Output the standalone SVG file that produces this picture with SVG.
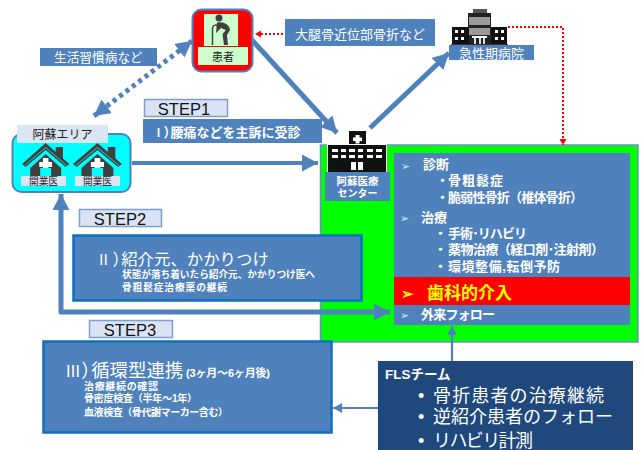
<svg xmlns="http://www.w3.org/2000/svg" width="643" height="450" viewBox="0 0 643 450">
<defs>
<style>
text{font-family:"Liberation Sans","Noto Sans CJK JP",sans-serif}
.cjk{font-family:"Noto Sans CJK JP",sans-serif}
.pa{font-feature-settings:"palt"}
.w{fill:#fff}.b{font-weight:700}
.blue{fill:#4f81bd}
.step{fill:#dae3f3;stroke:#7c9fd0;stroke-width:1.5}
.steptx{font-size:16.5px;fill:#111;text-anchor:middle}
.big{fill:#4f81bd;stroke:#0e6fc0;stroke-width:2.5}
.ln{fill:none;stroke:#4f81bd;stroke-width:5}
.thin{fill:none;stroke:#4f81bd;stroke-width:2.2}
.red{fill:none;stroke:#f00;stroke-width:2;stroke-dasharray:2 2}
.blk{fill:#111}
.dk{fill:#404040}
.arw{fill:#dce6f2}
</style>
<marker id="ah" markerUnits="userSpaceOnUse" markerWidth="18" markerHeight="18" refX="16" refY="8.500" orient="auto-start-reverse"><path d="M0 0L16 8.500L0 17Z" fill="#4f81bd"/></marker>
<marker id="ahs" markerUnits="userSpaceOnUse" markerWidth="12" markerHeight="12" refX="9" refY="5" orient="auto"><path d="M0 0L9 5L0 10Z" fill="#4f81bd"/></marker>
<marker id="ahr" markerUnits="userSpaceOnUse" markerWidth="8" markerHeight="8" refX="6" refY="3.500" orient="auto"><path d="M0 0L6 3.500L0 7Z" fill="#f00"/></marker>
<g id="house">
<path d="M0 21L26 0L52 21L48 24L26 7L4 24Z" class="dk"/>
<path d="M37 4h8v13l-8-6Z" class="dk"/>
<path d="M9 25L26 11L43 25V34H9Z" class="dk"/>
<path d="M3 22.500L26 4.500L49 22.500" fill="none" stroke="#00ffff" stroke-width="0.8"/>
<path d="M23 15h6v4h4v5h-4v4h-6v-4h-4v-5h4Z" fill="#fff"/>
<rect x="20" y="25" width="12" height="9" fill="#00ffff"/>
</g>
</defs>
<rect width="643" height="450" fill="#fff"/>

<g id="center-area">
<rect x="320.500" y="145" width="317.500" height="197" fill="#00ff00" stroke="#6f8fc8" stroke-width="1.500"/>
<rect x="394" y="153" width="236" height="124" class="blue"/>
<rect x="394" y="277" width="236" height="28" fill="#f00"/>
<rect x="394" y="305" width="236" height="20" class="blue"/>
<g class="arw" font-size="11">
<text x="401" y="170">➢</text>
<text x="400" y="222">➢</text>
<text x="400" y="319">➢</text>
</g>
<g class="w b" font-size="13">
<text x="423" y="169">診断</text>
<text x="436" y="185">・</text><text x="448" y="185" textLength="55">骨粗鬆症</text>
<text x="436" y="202">・</text><text x="448" y="202" textLength="135">脆弱性骨折（椎体骨折）</text>
<text x="421" y="222">治療</text>
<text x="434" y="238">・</text><text x="448" y="238" textLength="79">手術･リハビリ</text>
<text x="434" y="254">・</text><text x="448" y="254" textLength="156">薬物治療（経口剤･注射剤）</text>
<text x="434" y="271">・</text><text x="448" y="271" textLength="112">環境整備,転倒予防</text>
<text x="421" y="319" textLength="74">外来フォロー</text>
</g>
<text x="401" y="299" font-size="15" fill="#ff0" font-weight="700">➢</text>
<text x="427" y="299" font-size="17" fill="#ff0" font-weight="700">歯科的介入</text>
</g>

<g id="connectors">
<path d="M132 163H318" class="ln" style="stroke-width:4" marker-end="url(#ah)"/>
<path d="M252 40L337 133" class="ln" marker-end="url(#ah)"/>
<path d="M370 128L449 53" class="ln" marker-end="url(#ah)"/>
<path d="M94 116L192 41" fill="none" stroke="#4f81bd" stroke-width="5" stroke-dasharray="4 4" marker-start="url(#ah)" marker-end="url(#ah)"/>
<path d="M61 194V312H390" class="ln" stroke-linejoin="round" marker-start="url(#ah)" marker-end="url(#ah)"/>
<path d="M452 361V326" class="thin" marker-end="url(#ahs)"/>
<path d="M378 408H333" class="thin" marker-end="url(#ahs)"/>
<path d="M435 34H255" class="red" marker-end="url(#ahr)"/>
<path d="M508 27H563V145" class="red" marker-end="url(#ahr)"/>
</g>

<g id="patient">
<rect x="192.500" y="9.500" width="60" height="62" rx="9" fill="#f00" stroke="#4f81bd" stroke-width="2"/>
<rect x="204" y="14" width="34" height="32" fill="#ccffcc"/>
<rect x="198" y="47" width="50" height="18" fill="#ccffcc"/>
<circle cx="219" cy="18" r="3.500" class="dk"/>
<path d="M217 22.500C223 21 230 25 230 30L227 35L228 45H224L222.500 34L226 30L221 28L216 33Z" class="dk"/>
<path d="M212.500 45V29C212.500 24 218 24 218 28" fill="none" stroke="#404040" stroke-width="1.500"/>
<text x="223" y="61" font-size="11" text-anchor="middle" fill="#222">患者</text>
</g>

<g id="label-lifestyle"><rect x="40" y="48" width="117" height="18" class="blue"/><text x="54" y="62" font-size="12.700" class="w">生活習慣病など</text></g>
<g id="label-femur"><rect x="285" y="19" width="150" height="27" class="blue"/><text x="295" y="39" font-size="13" class="w">大腿骨近位部骨折など</text></g>

<g id="step1">
<rect x="144.500" y="99.500" width="83" height="17" class="step"/><text x="184" y="115" class="steptx">STEP1</text>
<rect x="143" y="119" width="179" height="24" class="blue"/>
<text x="153" y="137" font-size="13" class="w b cjk"><tspan font-size="11">Ⅰ</tspan><tspan class="pa">）</tspan>腰痛などを主訴に受診</text>
</g>

<g id="aso-area">
<rect x="12.500" y="134" width="118" height="58" rx="9" fill="#00ffff" stroke="#4f81bd" stroke-width="2"/>
<rect x="17" y="125" width="91" height="18" fill="#dce6f2"/>
<text x="62.500" y="139" font-size="12" text-anchor="middle" fill="#222">阿蘇エリア</text>
<use href="#house" transform="translate(22 143) scale(.91 1)"/>
<use href="#house" transform="translate(73 143) scale(.94 1)"/>
<rect x="21" y="176" width="45" height="10" fill="#dce6f2"/>
<rect x="75" y="176" width="45" height="10" fill="#dce6f2"/>
<text x="43.500" y="185" font-size="9.700" text-anchor="middle" fill="#222">開業医</text>
<text x="97.500" y="185" font-size="9.700" text-anchor="middle" fill="#222">開業医</text>
</g>

<g id="aso-center">
<rect x="348.500" y="130.500" width="18" height="15" class="blk" stroke="#fff"/>
<rect x="327.500" y="144.500" width="59" height="28" class="blk" stroke="#fff"/>
<path d="M355.500 135h4v2.500h2.500v3.500h-2.500v2.500h-4v-2.500h-2.500v-3.500h2.500Z" fill="#fff"/>
<path d="M332 149h6v3h-6ZM341 149h5v3h-5ZM349 149h6v3h-6ZM358 149h5v3h-5ZM367 149h6v3h-6ZM376 149h6v3h-6ZM332 155h6v3h-6ZM341 155h5v3h-5ZM349 155h6v3h-6ZM358 155h5v3h-5ZM367 155h6v3h-6ZM376 155h6v3h-6ZM351 162h5v8h-5ZM358 162h5v8h-5Z" fill="#fff"/>
<rect x="325" y="172" width="65" height="29" class="blue"/>
<text x="357.500" y="185" font-size="10.500" class="w b" text-anchor="middle">阿蘇医療</text>
<text x="357.500" y="197" font-size="10" class="w b" text-anchor="middle">センター</text>
</g>

<g id="acute-hospital">
<rect x="468" y="13" width="23" height="31" fill="#222"/>
<rect x="473" y="9" width="14" height="4" fill="#555"/>
<rect x="452" y="27" width="17" height="17" class="blk"/>
<rect x="491" y="27" width="16" height="17" class="blk"/>
<path d="M469 17h21v8h-21ZM469 28h21v7h-21Z" fill="#999"/>
<path d="M472 36h15v2h-15Z" fill="#fff"/>
<path d="M474 38h2v6h-2ZM479 38h2v6h-2ZM483 38h2v6h-2Z" fill="#ddd"/>
<path d="M455 30h3v3h-3ZM461 30h3v3h-3ZM455 37h3v3h-3ZM461 37h3v3h-3ZM495 30h3v3h-3ZM501 30h3v3h-3ZM495 37h3v3h-3ZM501 37h3v3h-3Z" fill="#fff"/>
<rect x="451" y="44" width="57" height="1" fill="#333"/>
<rect x="449" y="45" width="85" height="15" class="blue"/>
<text x="459" y="58" font-size="13" class="w">急性期病院</text>
</g>

<g id="step2">
<rect x="79.500" y="209.500" width="82" height="17" class="step"/><text x="120" y="225" class="steptx">STEP2</text>
<rect x="73.500" y="235.500" width="288" height="65" class="big"/>
<text x="96" y="265" font-size="16.400" class="w cjk"><tspan font-size="15">Ⅱ</tspan><tspan class="pa" dx="2">）</tspan>紹介元、かかりつけ</text>
<g class="w b" font-size="9.700"><text x="122" y="278" textLength="193">状態が落ち着いたら紹介元、かかりつけ医へ</text><text x="122" y="291" textLength="105">骨粗鬆症治療薬の継続</text></g>
</g>

<g id="step3">
<rect x="89.500" y="320.500" width="83" height="17" class="step"/><text x="130" y="336" class="steptx">STEP3</text>
<rect x="43.500" y="341.500" width="288" height="91" class="big"/>
<text x="65" y="377" font-size="18.400" class="w cjk"><tspan font-size="16">Ⅲ</tspan><tspan class="pa" dx="1">）</tspan>循環型連携</text>
<text x="186" y="377" font-size="11" class="w b" textLength="84">(3ヶ月～6ヶ月後)</text>
<g class="w b" font-size="10"><text x="84" y="390" textLength="74">治療継続の確認</text><text x="84" y="402" textLength="113">骨密度検査（半年～1年）</text><text x="84" y="416" textLength="144">血液検査（骨代謝マーカー含む）</text></g>
</g>

<g id="fls-team">
<rect x="378" y="361" width="255" height="89" fill="#1f497d"/>
<text x="385" y="379" font-size="13.500" class="w b">FLSチーム</text>
<g class="w" font-size="18"><text x="418" y="402">•</text><text x="433" y="402" textLength="171">骨折患者の治療継続</text><text x="418" y="423">•</text><text x="433" y="423" textLength="180">逆紹介患者のフォロー</text><text x="418" y="447">•</text><text x="433" y="447" textLength="100">リハビリ計測</text></g>
</g>
</svg>
